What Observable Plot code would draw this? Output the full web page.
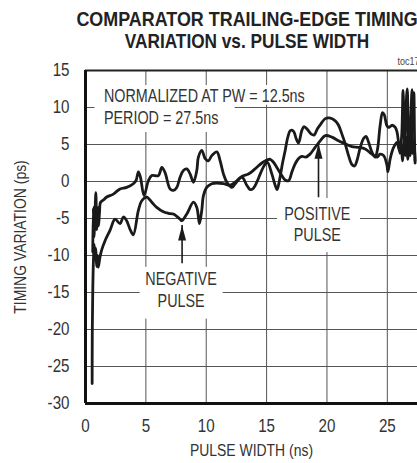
<!DOCTYPE html>
<html>
<head>
<meta charset="utf-8">
<script src="https://cdn.jsdelivr.net/npm/d3@7"></script>
<script src="https://cdn.jsdelivr.net/npm/@observablehq/plot@0.6"></script>
<style>
  html, body { margin: 0; padding: 0; background: #fff; overflow: hidden; }
  #wrap { position: relative; width: 417px; height: 463px; overflow: hidden; }
  #title { position: absolute; left: 0; top: 8px; width: 494px; text-align: center;
    font-family: "Liberation Sans", Arial, sans-serif; font-weight: bold;
    font-size: 21px; line-height: 22px; color: #222; white-space: nowrap;
    transform: scaleX(0.82); transform-origin: 247px 0; }
  #title .l1 { display: inline-block; transform: scaleX(1.04); }
  #chart { position: absolute; left: 0; top: 0; }
</style>
</head>
<body>
<div id="wrap">
  <div id="chart"></div>
  <div id="title"><span class="l1">COMPARATOR TRAILING-EDGE TIMING</span><br>VARIATION vs. PULSE WIDTH</div>
</div>
<script>
// ---- data ----
const xTicks = [0, 5, 10, 15, 20, 25];
const yTicks = [15, 10, 5, 0, -5, -10, -15, -20, -25, -30];
const xLabel = "PULSE WIDTH (ns)";
const yLabel = "TIMING VARIATION (ps)";

const posX = [0.6,0.65,0.7,0.78,0.86,0.92,1.0,1.08,1.16,1.25,1.48,1.76,2.31,2.86,3.41,3.96,4.2,4.38,4.55,4.85,5.21,5.49,6.04,6.32,6.59,7.0,7.28,7.56,7.84,8.11,8.39,8.67,8.94,9.22,9.35,9.63,9.91,10.18,10.46,10.88,11.15,11.43,11.71,12.12,12.4,12.95,13.5,14.05,14.61,15.02,15.3,15.57,15.85,16.26,16.54,16.82,17.1,17.37,17.65,17.92,18.25,18.6,19.02,19.44,19.86,20.41,20.96,21.51,22.07,22.62,23.17,23.72,24.14,24.41,24.7,24.97,25.05,25.24,25.52,25.8,26.0,26.15,26.25,26.4,26.5,26.6,26.7,26.8,26.9,27.0,27.1,27.2,27.3];
const posY = [-9.5,-3.5,-7.5,-4.5,-1.5,-6.5,-3.5,-6.0,-4.2,-2.8,-2.5,-2.1,-1.7,-1.0,-0.8,-0.3,0.2,1.3,0.6,-1.9,0.1,0.8,0.8,1.9,1.2,-1.0,-1.2,-0.8,0.6,1.5,1.7,1.0,-0.1,1.5,3.3,4.2,3.1,2.8,3.5,4.0,2.8,1.0,-0.1,-0.8,-0.3,0.7,1.0,1.7,2.5,2.9,3.0,2.6,1.9,0.8,0.2,0.1,1.3,2.4,3.1,3.4,3.3,3.7,4.6,5.5,6.2,6.0,5.5,5.1,4.7,4.6,4.4,3.7,3.3,3.7,3.5,2.2,1.3,3.1,4.6,5.3,4.2,4.8,2.8,5.5,3.5,6.0,3.0,5.5,3.5,7.5,3.8,5.5,2.8];

const negX = [0.55,0.56,0.6,0.66,0.72,0.78,0.85,0.92,1.0,1.06,1.2,1.35,1.62,2.03,2.45,2.86,3.14,3.41,3.7,3.96,4.38,4.66,5.07,5.49,5.9,6.45,6.87,7.28,7.84,7.98,8.39,8.94,9.22,9.44,9.63,9.77,10.04,10.46,10.88,11.43,11.98,12.4,12.95,13.36,13.64,13.91,14.19,14.47,14.82,15.07,15.44,15.71,15.87,16.06,16.31,16.54,16.76,16.98,17.23,17.45,17.65,17.9,18.1,18.4,18.7,18.95,19.2,19.5,19.86,20.2,20.69,20.96,21.24,21.51,21.79,22.07,22.29,22.48,22.76,23.03,23.23,23.45,23.72,24.0,24.2,24.4,24.6,24.75,24.95,25.11,25.4,25.66,25.8,25.93,26.05,26.2,26.3,26.38,26.45,26.55,26.65,26.75,26.85,26.95,27.05,27.12,27.2,27.26,27.3];
const negY = [-27.3,-21,-15,-10.5,-8.5,-10.5,-9,-11.5,-10,-11.6,-10.2,-9.2,-8.0,-6.6,-5.1,-5.7,-4.8,-5.3,-6.5,-7.2,-3.9,-2.6,-2.1,-2.8,-3.5,-4.1,-4.3,-4.4,-5.1,-5.3,-4.4,-2.8,-3.5,-5.7,-3.9,-1.9,-0.8,-0.3,-0.2,-0.3,-0.5,-0.1,0.6,-0.5,-1.1,-0.9,-0.1,1.0,2.2,2.6,1.0,-0.5,-1.1,0.1,2.4,4.2,6.0,6.9,6.8,5.8,5.2,6.8,7.4,7.0,6.4,6.3,7.1,7.8,8.5,8.6,8.2,7.6,6.4,5.1,3.5,2.3,2.1,2.8,4.6,5.8,6.1,5.3,4.0,3.3,4.5,7.5,9.3,9.0,7.6,7.3,7.6,7.3,6.7,5.3,3.8,6.5,12.3,8.0,4.2,10.0,12.5,6.0,4.0,9.0,12.4,7.0,12.0,5.0,2.5];

const noteText = ["NORMALIZED AT PW = 12.5ns", "PERIOD = 27.5ns"];
const noteX = [1.53, 1.53];
const noteY = [11.55, 8.58];

const labelText = ["POSITIVE", "PULSE", "NEGATIVE", "PULSE"];
const labelX = [19.2, 19.2, 7.92, 7.92];
const labelY = [-4.46, -7.3, -13.24, -16.2];

// white label backgrounds (data units)
const boxX1 = [0.79, 0.79, 15.9, 4.52];
const boxX2 = [18.95, 12.4, 22.78, 11.4];
const boxY1 = [12.97, 10.3, -2.3, -11.6];
const boxY2 = [10.3, 6.62, -9.6, -18.6];

const arrowX = [19.3, 8.0];
const arrowBase = [-2.2, -11.1];
const arrowTip = [5.1, -5.95];

// ---- build ----
const pos = posX.map((x, i) => ({x, y: posY[i]}));
const neg = negX.map((x, i) => ({x, y: negY[i]}));
const notes = noteText.map((t, i) => ({t, x: noteX[i], y: noteY[i]}));
const labels = labelText.map((t, i) => ({t, x: labelX[i], y: labelY[i]}));
const boxes = boxX1.map((x1, i) => ({x1, x2: boxX2[i], y1: boxY1[i], y2: boxY2[i]}));
const arrows = arrowX.map((x, i) => ({x, base: arrowBase[i], tip: arrowTip[i]}));

const FONT = '"Liberation Sans", Arial, sans-serif';
const INK = "#1a1a1a";
const TXT = "#333";
const triangle = {
  draw(context, l) {
    context.moveTo(0, -l);
    context.lineTo(-4, 0);
    context.lineTo(4, 0);
    context.closePath();
  }
};

const chart = Plot.plot({
  width: 417,
  height: 463,
  marginTop: 70,
  marginBottom: 60,
  marginLeft: 85,
  marginRight: 0,
  style: {fontFamily: FONT, fontSize: "18px", color: TXT, background: "white", overflow: "visible"},
  x: {domain: [0, 27.5]},
  y: {domain: [-30, 15]},
  marks: [
    Plot.gridX(xTicks, {stroke: "#555", strokeOpacity: 1, strokeWidth: 1}),
    Plot.gridY(yTicks, {stroke: "#555", strokeOpacity: 1, strokeWidth: 1}),
    Plot.rect(boxes, {x1: "x1", x2: "x2", y1: "y1", y2: "y2", fill: "white"}),
    Plot.ruleY([15], {stroke: "#222", strokeWidth: 2}),
    Plot.ruleY([-30], {stroke: "#111", strokeWidth: 3}),
    Plot.ruleX([0], {stroke: "#111", strokeWidth: 3}),
    Plot.axisX({ticks: xTicks, tickSize: 0, tickPadding: 15, fontSize: 18.5, fill: TXT, label: null}),
    Plot.axisY({ticks: yTicks, tickSize: 0, tickPadding: 16, fontSize: 18.5, fill: TXT,
      tickFormat: d => String(d), label: null}),
    Plot.text([xLabel], {frameAnchor: "bottom", dy: 47, lineAnchor: "middle", textAnchor: "middle",
      text: d => d, fontSize: 17, fill: TXT}),
    Plot.text([yLabel], {frameAnchor: "left", dx: -65, rotate: -90, lineAnchor: "middle", textAnchor: "middle",
      text: d => d, fontSize: 17, fill: TXT}),
    Plot.line(pos, {x: "x", y: "y", stroke: INK, strokeWidth: 2.8, curve: "catmull-rom"}),
    Plot.line(neg, {x: "x", y: "y", stroke: INK, strokeWidth: 2.8, curve: "catmull-rom"}),
    Plot.ruleX(arrows, {x: "x", y1: "base", y2: "tip", stroke: INK, strokeWidth: 1.6}),
    Plot.vector(arrows, {x: "x", y: "tip", length: 15, anchor: "end", shape: triangle, fill: INK, stroke: "none"}),
    Plot.text(notes, {x: "x", y: "y", text: "t", textAnchor: "start", fontSize: 17.5, fill: TXT}),
    Plot.text(labels, {x: "x", y: "y", text: "t", textAnchor: "middle", fontSize: 17.5, fill: TXT}),
    Plot.text(["toc17"], {frameAnchor: "top-right", dy: -9, dx: 2, lineAnchor: "middle", textAnchor: "end",
      text: d => d, fontSize: 11, fill: "#444"})
  ]
});

// render text in a narrow (condensed) proportion, like the original's type
chart.querySelectorAll("text").forEach(t => {
  const xa = t.getAttribute("x");
  let x = 0;
  if (xa !== null && /^-?[\d.]+$/.test(xa.trim())) { x = +xa; t.removeAttribute("x"); }
  const tr = t.getAttribute("transform") || "";
  t.setAttribute("transform", `${tr} translate(${x},0) scale(0.82,1)`);
});
document.getElementById("chart").appendChild(chart);
</script>
</body>
</html>
